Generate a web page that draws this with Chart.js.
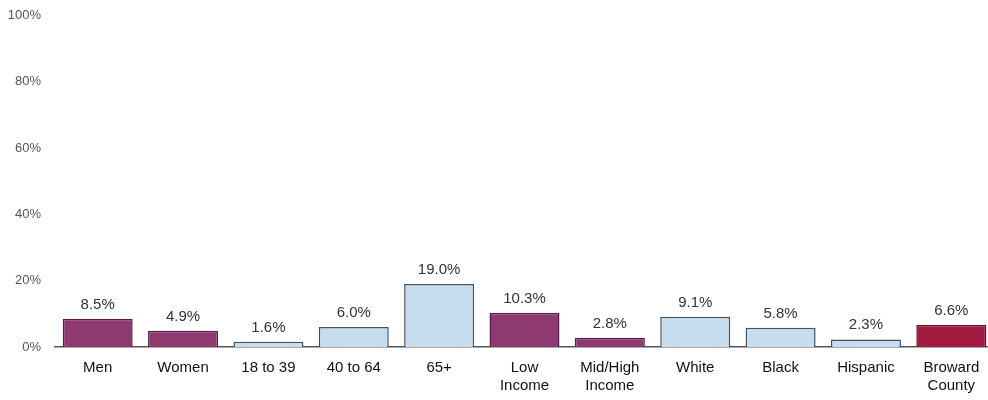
<!DOCTYPE html>
<html>
<head>
<meta charset="utf-8">
<script src="https://cdn.jsdelivr.net/npm/chart.js@4.4.1/dist/chart.umd.min.js"></script>
<style>
  html, body { margin: 0; padding: 0; background: #fff; overflow: hidden; }
  #wrap { width: 994px; height: 400px; position: relative; }
</style>
</head>
<body>
<div id="wrap"><canvas id="c" width="994" height="400"></canvas></div>
<script>
// Share of each group, in percent
const categories = ['Men', 'Women', '18 to 39', '40 to 64', '65+', ['Low', 'Income'], ['Mid/High', 'Income'], 'White', 'Black', 'Hispanic', ['Broward', 'County']];
const values = [8.5, 4.9, 1.6, 6.0, 19.0, 10.3, 2.8, 9.1, 5.8, 2.3, 6.6];
const groups = ['sex', 'sex', 'age', 'age', 'age', 'income', 'income', 'race', 'race', 'race', 'county'];
const yTicks = [0, 20, 40, 60, 80, 100];

const fillByGroup = { sex: '#8e3a70', income: '#8e3a70', age: '#c6dcef', race: '#c6dcef', county: '#a31b40' };
const edgeByGroup = { sex: '#4e2440', income: '#4e2440', age: '#47505a', race: '#47505a', county: '#5e1024' };

const FONT = '"Liberation Sans", Arial, sans-serif';

// Writes the percentage above each bar
const valueLabels = {
  id: 'valueLabels',
  afterDatasetsDraw(chart) {
    const ctx = chart.ctx;
    const meta = chart.getDatasetMeta(0);
    ctx.save();
    ctx.font = '15px ' + FONT;
    ctx.fillStyle = '#333';
    ctx.textAlign = 'center';
    ctx.textBaseline = 'alphabetic';
    meta.data.forEach((bar, i) => {
      ctx.fillText(values[i].toFixed(1) + '%', bar.x, bar.y - 10);
    });
    ctx.restore();
  }
};

new Chart(document.getElementById('c'), {
  type: 'bar',
  data: {
    labels: categories,
    datasets: [{
      data: values,
      backgroundColor: groups.map(g => fillByGroup[g]),
      borderColor: groups.map(g => edgeByGroup[g]),
      borderWidth: 1.5,
      barPercentage: 0.82,
      categoryPercentage: 1.0
    }]
  },
  options: {
    responsive: false,
    animation: false,
    layout: { padding: { top: 15.5, right: 0, left: 0, bottom: 0 } },
    plugins: { legend: { display: false }, tooltip: { enabled: false } },
    scales: {
      x: {
        grid: { display: false, drawTicks: false },
        border: { display: true, color: '#555', width: 1.5 },
        ticks: { color: '#111', font: { family: FONT, size: 15 }, padding: 12, maxRotation: 0, autoSkip: false },
        afterFit(scale) { scale.height = 53; }
      },
      y: {
        min: 0,
        max: 100,
        afterBuildTicks(scale) { scale.ticks = yTicks.map(v => ({ value: v })); },
        grid: { display: false, drawTicks: false },
        border: { display: false },
        ticks: {
          color: '#555',
          font: { family: FONT, size: 13 },
          padding: 14,
          callback: v => v + '%'
        },
        afterFit(scale) {
          scale.width = 55;
          scale.paddingTop = 0;
          scale.paddingBottom = 0;
        }
      }
    }
  },
  plugins: [valueLabels]
});
</script>
</body>
</html>
